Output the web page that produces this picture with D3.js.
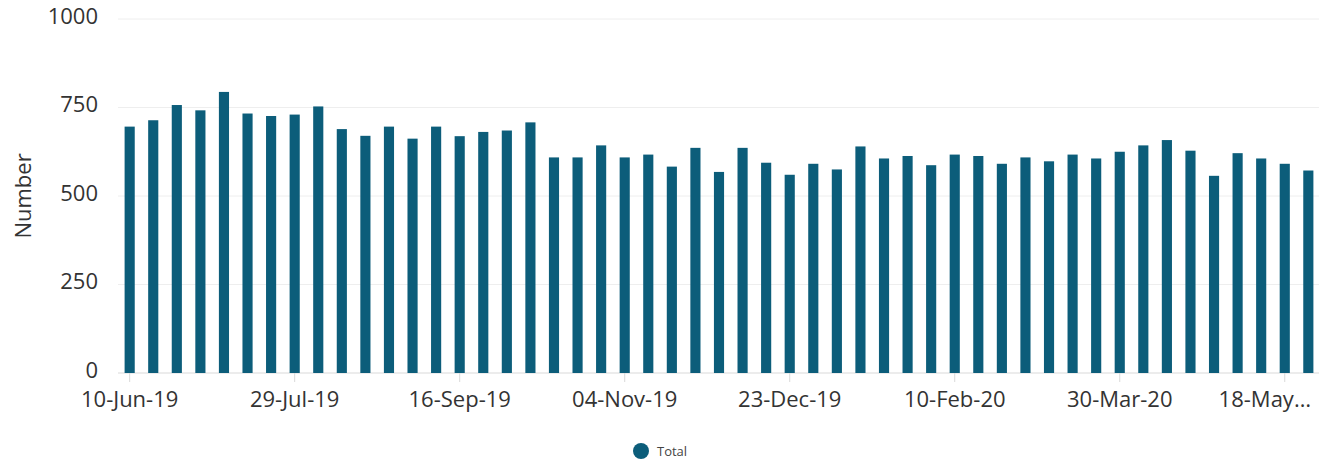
<!DOCTYPE html>
<html>
<head>
<meta charset="utf-8">
<script src="https://cdn.jsdelivr.net/npm/d3@7"></script>
<style>
  body { margin: 0; background: #fff; }
  svg { display: block; font-family: "Open Sans", sans-serif; }
</style>
</head>
<body>
<div id="chart"></div>
<script>
// weekly categories (week starting)
const weeks = [
    "10-Jun-19", "17-Jun-19", "24-Jun-19", "01-Jul-19", "08-Jul-19", "15-Jul-19", "22-Jul-19", "29-Jul-19",
    "05-Aug-19", "12-Aug-19", "19-Aug-19", "26-Aug-19", "02-Sep-19", "09-Sep-19", "16-Sep-19", "23-Sep-19",
    "30-Sep-19", "07-Oct-19", "14-Oct-19", "21-Oct-19", "28-Oct-19", "04-Nov-19", "11-Nov-19", "18-Nov-19",
    "25-Nov-19", "02-Dec-19", "09-Dec-19", "16-Dec-19", "23-Dec-19", "30-Dec-19", "06-Jan-20", "13-Jan-20",
    "20-Jan-20", "27-Jan-20", "03-Feb-20", "10-Feb-20", "17-Feb-20", "24-Feb-20", "02-Mar-20", "09-Mar-20",
    "16-Mar-20", "23-Mar-20", "30-Mar-20", "06-Apr-20", "13-Apr-20", "20-Apr-20", "27-Apr-20", "04-May-20",
    "11-May-20", "18-May-20", "25-May-20"
];
const totals = [
    696, 714, 757, 742, 794, 733, 726, 730, 753, 689, 670, 696, 662, 696, 669, 681,
    685, 708, 609, 609, 643, 609, 617, 583, 636, 568, 636, 594, 560, 591, 575, 640,
    606, 613, 587, 617, 613, 591, 609, 598, 617, 606, 625, 643, 658, 628, 557, 621,
    606, 591, 572
];
const xTicks = ["10-Jun-19", "29-Jul-19", "16-Sep-19", "04-Nov-19", "23-Dec-19", "10-Feb-20", "30-Mar-20", "18-May-20"];
const yTicks = [0, 250, 500, 750, 1000];
const seriesName = "Total";

const data = weeks.map((w, i) => ({week: w, value: totals[i]}));

const width = 1319;
const height = 460;
const marginTop = 19;
const marginLeft = 118;
const plotBottom = 373;
const barColor = "#0c5d7a";
const textColor = "#333";

const svg = d3.select("#chart").append("svg")
    .attr("width", width)
    .attr("height", height);

const x = d3.scaleBand()
    .domain(weeks)
    .range([marginLeft, width + 1])
    .paddingInner(0.57)
    .paddingOuter(0.28);

const y = d3.scaleLinear()
    .domain([0, 1000])
    .range([plotBottom, marginTop]);

// grid lines
svg.append("g")
    .selectAll("line")
    .data(yTicks)
    .join("line")
    .attr("x1", marginLeft)
    .attr("x2", width)
    .attr("y1", d => y(d))
    .attr("y2", d => y(d))
    .attr("stroke", d => d === 0 ? "#d9d9d9" : "#eeeeee")
    .attr("stroke-width", 1);

// y axis labels (sit a little above their grid line)
svg.append("g")
    .attr("transform", `translate(${marginLeft - 20},-3)`)
    .call(d3.axisLeft(y).tickValues(yTicks).tickFormat(d3.format("d")).tickSize(0).tickPadding(0))
    .call(g => g.select(".domain").remove())
    .selectAll("text")
    .style("font-family", "'Open Sans', sans-serif")
    .style("font-size", "22px")
    .style("fill", textColor);

// bars
svg.append("g")
    .selectAll("rect")
    .data(data)
    .join("rect")
    .attr("x", d => x(d.week))
    .attr("y", d => y(d.value))
    .attr("width", x.bandwidth())
    .attr("height", d => y(0) - y(d.value))
    .attr("fill", barColor);

// x axis
const xAxis = svg.append("g")
    .attr("transform", `translate(0,${plotBottom})`)
    .call(d3.axisBottom(x).tickValues(xTicks).tickSize(9).tickPadding(9))
    .call(g => g.select(".domain").remove())
    .call(g => g.selectAll(".tick line").attr("stroke", "#d9d9d9"));

xAxis.selectAll("text")
    .style("font-family", "'Open Sans', sans-serif")
    .style("font-size", "22px")
    .style("fill", textColor)
    .each(function() {
        // labels running past the right edge: cut with an ellipsis and pull them back in
        const t = d3.select(this);
        const box = this.getBoundingClientRect();
        if (box.right <= width - 6) return;
        let label = t.text().split("-").slice(0, 2).join("-");
        t.text(label + "…")
            .attr("text-anchor", "end")
            .attr("x", (width - 8) - (box.left + box.right) / 2);
    });

// y axis title
svg.append("text")
    .attr("transform", `translate(31,${(marginTop + plotBottom) / 2}) rotate(-90)`)
    .attr("text-anchor", "middle")
    .style("font-size", "22px")
    .style("fill", textColor)
    .text("Number");

// legend
const legend = svg.append("g")
    .attr("transform", `translate(641,451)`);
legend.append("circle")
    .attr("r", 8)
    .attr("fill", barColor);
legend.append("text")
    .attr("x", 16)
    .attr("dy", "0.35em")
    .style("font-size", "13px")
    .style("fill", "#444")
    .text(seriesName);
</script>
</body>
</html>
